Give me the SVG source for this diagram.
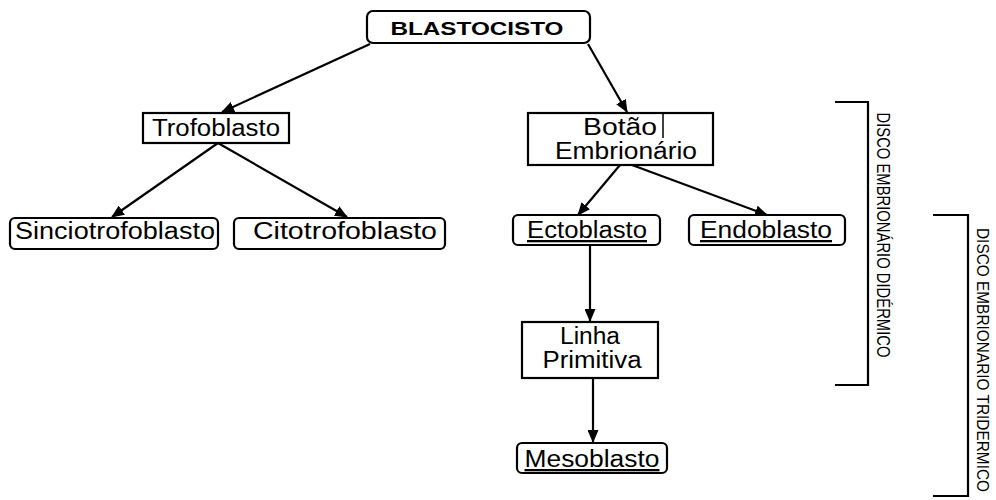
<svg xmlns="http://www.w3.org/2000/svg" width="996" height="500" viewBox="0 0 996 500">
<style>
.box{fill:#fff;stroke:#000;stroke-width:2.2}
.t{font-family:"Liberation Sans",Arial,sans-serif;font-size:23px;fill:#000;text-anchor:middle}
.b{font-weight:bold;font-size:19px}
.u{text-decoration:underline}
.c{stroke:#000;stroke-width:2.2;fill:none}
.side{font-family:"Liberation Sans",Arial,sans-serif;font-size:18px;fill:#000;text-anchor:middle}
.side2{font-size:16px}
</style>
<defs>
<marker id="ah" viewBox="0 0 13 11" refX="12" refY="5.5" markerWidth="13" markerHeight="11" markerUnits="userSpaceOnUse" orient="auto">
<path d="M0,0 L13,5.5 L0,11 Z" fill="#000"/>
</marker>
</defs>
<rect width="996" height="500" fill="#fff"/>
<g id="connectors">
<line class="c" x1="370" y1="44" x2="222" y2="112" marker-end="url(#ah)"/>
<line class="c" x1="588" y1="44" x2="627" y2="112" marker-end="url(#ah)"/>
<line class="c" x1="218" y1="143" x2="112" y2="217" marker-end="url(#ah)"/>
<line class="c" x1="218" y1="143" x2="347" y2="217" marker-end="url(#ah)"/>
<line class="c" x1="620" y1="165" x2="578" y2="215" marker-end="url(#ah)"/>
<line class="c" x1="632" y1="165" x2="767" y2="215" marker-end="url(#ah)"/>
<line class="c" x1="590" y1="245" x2="590" y2="321" marker-end="url(#ah)"/>
<line class="c" x1="593" y1="378" x2="593" y2="442" marker-end="url(#ah)"/>
</g>
<g id="blastocisto">
<rect class="box" x="367" y="11" width="223" height="32" rx="6"/>
<text class="t b" x="477" y="35" textLength="173" lengthAdjust="spacingAndGlyphs">BLASTOCISTO</text>
</g>
<g id="trofoblasto">
<rect class="box" x="143" y="113" width="146" height="30"/>
<text class="t" x="216" y="136" textLength="128" lengthAdjust="spacingAndGlyphs">Trofoblasto</text>
</g>
<g id="sinciotrofoblasto">
<rect class="box" x="10" y="218" width="208" height="31" rx="5"/>
<text class="t" x="115" y="239" textLength="200" lengthAdjust="spacingAndGlyphs">Sinciotrofoblasto</text>
</g>
<g id="citotrofoblasto">
<rect class="box" x="234" y="218" width="211" height="31" rx="5"/>
<text class="t" x="345" y="239" textLength="184" lengthAdjust="spacingAndGlyphs">Citotrofoblasto</text>
</g>
<g id="botao">
<rect class="box" x="528" y="113" width="185" height="52"/>
<line x1="663" y1="114" x2="663" y2="138" stroke="#000" stroke-width="1.5"/>
<text class="t" x="620" y="135" textLength="74" lengthAdjust="spacingAndGlyphs">Botão</text>
<text class="t" x="626" y="159" textLength="142" lengthAdjust="spacingAndGlyphs">Embrionário</text>
</g>
<g id="ectoblasto">
<rect class="box" x="513" y="215" width="147" height="30" rx="5"/>
<text class="t u" x="587" y="238" textLength="120" lengthAdjust="spacingAndGlyphs">Ectoblasto</text>
</g>
<g id="endoblasto">
<rect class="box" x="689" y="215" width="156" height="30" rx="5"/>
<text class="t u" x="766" y="238" textLength="132" lengthAdjust="spacingAndGlyphs">Endoblasto</text>
</g>
<g id="linha-primitiva">
<rect class="box" x="522" y="322" width="136" height="56"/>
<text class="t" x="590" y="344" textLength="60" lengthAdjust="spacingAndGlyphs">Linha</text>
<text class="t" x="592" y="368" textLength="99" lengthAdjust="spacingAndGlyphs">Primitiva</text>
</g>
<g id="mesoblasto">
<rect class="box" x="517" y="443" width="150" height="30" rx="5"/>
<text class="t u" x="592" y="467" textLength="135" lengthAdjust="spacingAndGlyphs">Mesoblasto</text>
</g>
<g id="disco-didermico">
<path class="c" d="M835,102 L868,102 L868,385 L835,385"/>
<text class="side" transform="translate(877,235) rotate(90)" textLength="245" lengthAdjust="spacingAndGlyphs">DISCO EMBRIONÁRIO DIDÉRMICO</text>
</g>
<g id="disco-tridermico">
<path class="c" d="M933,215 L968,215 L968,496 L933,496"/>
<text class="side side2" transform="translate(977,360) rotate(90)" textLength="264" lengthAdjust="spacingAndGlyphs">DISCO EMBRIONARIO TRIDERMICO</text>
</g>
</svg>
